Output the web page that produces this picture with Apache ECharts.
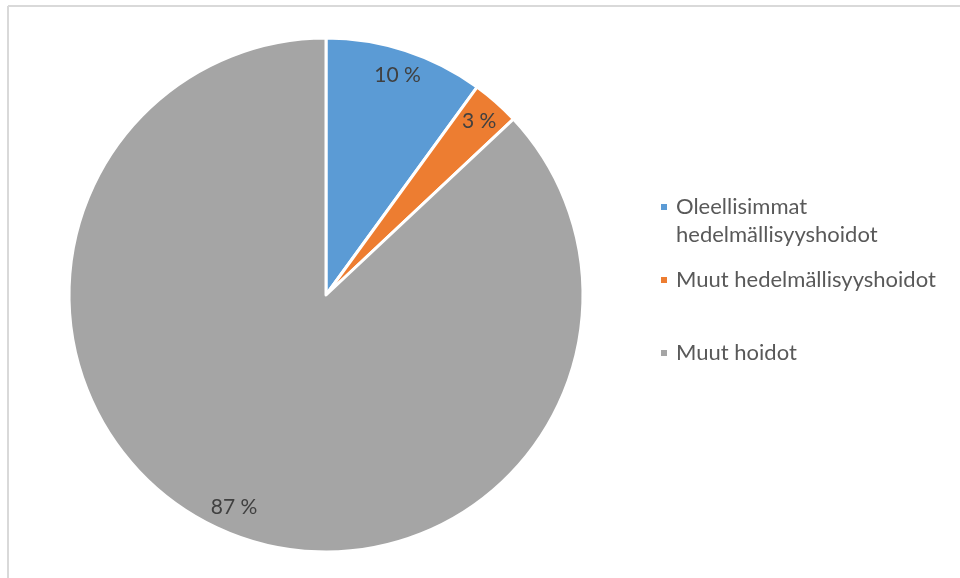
<!DOCTYPE html>
<html>
<head>
<meta charset="utf-8">
<script src="https://cdn.jsdelivr.net/npm/echarts@6/dist/echarts.min.js"></script>
<style>
  html, body { margin: 0; padding: 0; background: #fff; }
  #chart { width: 960px; height: 578px; }
</style>
</head>
<body>
<div id="chart"></div>
<script>
// Share of treatments (%)
const categories = ['Oleellisimmat hedelmällisyyshoidot', 'Muut hedelmällisyyshoidot', 'Muut hoidot'];
const shares = [10, 3, 87];
const colors = ['#5B9BD5', '#ED7D31', '#A5A5A5'];
// Legend text; the long name wraps onto a second line, with a leading
// blank line so the marker sits beside the first text line
const legendLabels = ['\nOleellisimmat\nhedelmällisyyshoidot', 'Muut hedelmällisyyshoidot', 'Muut hoidot'];

const FONT = 'Lato, "Open Sans", sans-serif';
const center = [326, 295];
const R = 257;

const data = categories.map((name, i) => ({ name, value: shares[i], itemStyle: { color: colors[i] } }));

const legendTops = [165, 266, 339];
const legends = categories.map((name, i) => ({
  data: [name],
  left: 659,
  top: legendTops[i],
  padding: 0,
  orient: 'vertical',
  icon: 'rect',
  itemWidth: 8,
  itemHeight: 8,
  itemGap: 0,
  selectedMode: false,
  formatter: () => legendLabels[i],
  textStyle: {
    fontFamily: FONT,
    fontSize: 22,
    color: '#595959',
    lineHeight: 28,
    padding: [0, 0, 0, 3]
  }
}));

const chart = echarts.init(document.getElementById('chart'), null, { renderer: 'canvas' });
chart.setOption({
  animation: false,
  backgroundColor: '#fff',
  legend: legends,
  graphic: [
    { type: 'line', shape: { x1: 8, y1: 6, x2: 960, y2: 6 }, style: { stroke: '#D9D9D9', lineWidth: 2 }, silent: true },
    { type: 'line', shape: { x1: 8, y1: 6, x2: 8, y2: 578 }, style: { stroke: '#D9D9D9', lineWidth: 2 }, silent: true }
  ],
  series: [
    {
      type: 'pie',
      center: center,
      radius: [0, R],
      startAngle: 90,
      clockwise: true,
      label: { show: false },
      labelLine: { show: false },
      itemStyle: { borderColor: '#fff', borderWidth: 3 },
      emphasis: { disabled: true },
      data: data
    },
    {
      // transparent ring carrying the percentage labels near the rim
      type: 'pie',
      center: center,
      radius: [200, R],
      startAngle: 90,
      clockwise: true,
      silent: true,
      legendHoverLink: false,
      itemStyle: { color: 'rgba(0,0,0,0)', borderWidth: 0 },
      label: {
        show: true,
        position: 'inside',
        formatter: '{c} %',
        fontFamily: FONT,
        fontSize: 21,
        color: '#404040'
      },
      labelLine: { show: false },
      emphasis: { disabled: true },
      data: categories.map((name, i) => ({ name: name + ' ', value: shares[i] }))
    }
  ]
});
</script>
</body>
</html>
